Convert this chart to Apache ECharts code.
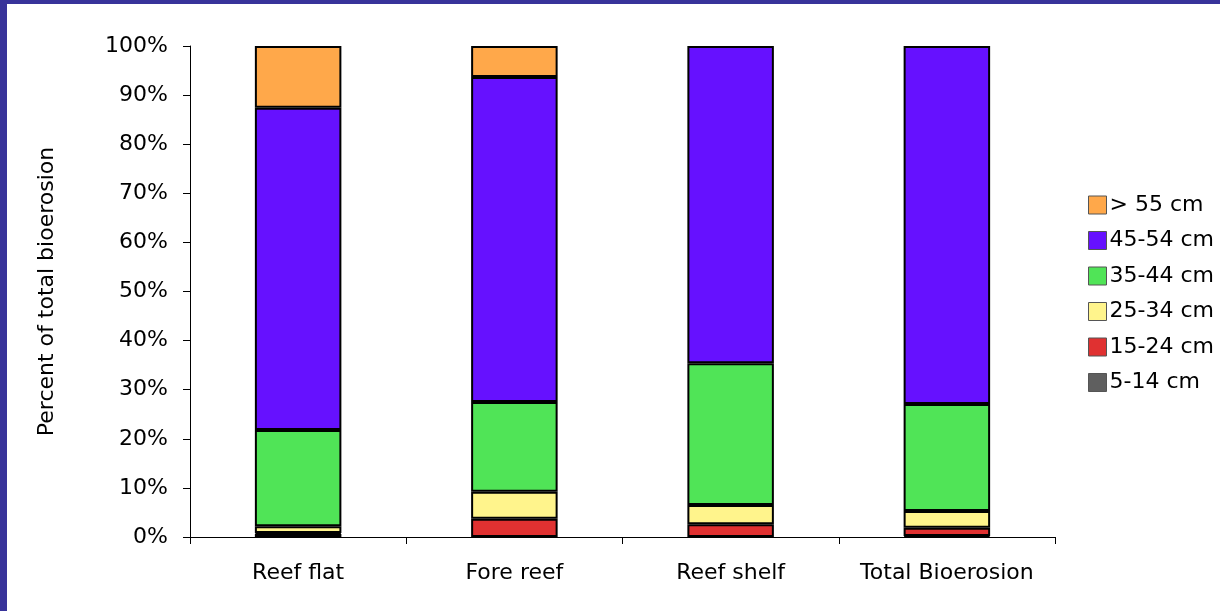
<!DOCTYPE html>
<html>
<head>
<meta charset="utf-8">
<script src="https://cdn.jsdelivr.net/npm/echarts@6/dist/echarts.min.js"></script>
<style>
  html, body { margin: 0; padding: 0; background: #fff; }
  #chart { width: 1220px; height: 611px; }
</style>
</head>
<body>
<div id="chart"></div>
<script>
// Share of total bioerosion by size class (percent), per reef zone
const categories = ['Reef flat', 'Fore reef', 'Reef shelf', 'Total Bioerosion'];
const yTicks = { min: 0, max: 100, interval: 10 };

const size5to14  = [0.6, 0, 0, 0.2];
const size15to24 = [0.2, 3.7, 2.6, 1.7];
const size25to34 = [1.4, 5.5, 3.9, 3.4];
const size35to44 = [19.6, 18.3, 28.9, 21.8];
const size45to54 = [65.6, 66.2, 64.6, 72.9];
const sizeOver55 = [12.6, 6.3, 0, 0];

const seriesDefs = [
  { name: '5-14 cm',  data: size5to14,  color: '#5f5f5f' },
  { name: '15-24 cm', data: size15to24, color: '#e03131' },
  { name: '25-34 cm', data: size25to34, color: '#fff48c' },
  { name: '35-44 cm', data: size35to44, color: '#50e457' },
  { name: '45-54 cm', data: size45to54, color: '#6611ff' },
  { name: '> 55 cm',  data: sizeOver55, color: '#ffa84a' }
];

const font = 'DejaVu Sans, Verdana, sans-serif';
const chart = echarts.init(document.getElementById('chart'), null, { renderer: 'canvas' });

chart.setOption({
  animation: false,
  backgroundColor: '#fff',
  textStyle: { fontFamily: font, color: '#000' },
  graphic: [
    { type: 'rect', shape: { x: 0, y: 0, width: 7, height: 611 }, style: { fill: '#38339a' }, z: 100 },
    { type: 'rect', shape: { x: 0, y: 0, width: 1220, height: 4 }, style: { fill: '#38339a' }, z: 100 }
  ],
  grid: { left: 190, right: 165, top: 46, bottom: 74 },
  legend: {
    orient: 'vertical',
    left: 1083,
    top: 189,
    itemWidth: 18,
    itemHeight: 18,
    itemGap: 13.5,
    icon: 'rect',
    data: seriesDefs.map(s => s.name).reverse(),
    itemStyle: { borderWidth: 1, borderColor: '#555' },
    textStyle: { fontFamily: font, fontSize: 22, color: '#000', padding: [0, 0, 0, -2] }
  },
  xAxis: {
    type: 'category',
    data: categories,
    axisLine: { lineStyle: { color: '#000', width: 1 } },
    axisTick: { show: true, interval: 0, length: 7, lineStyle: { color: '#000' } },
    axisLabel: { interval: 0, fontFamily: font, fontSize: 22, color: '#000', margin: 25 }
  },
  yAxis: {
    type: 'value',
    min: yTicks.min,
    max: yTicks.max,
    interval: yTicks.interval,
    name: 'Percent of total bioerosion',
    nameLocation: 'middle',
    nameRotate: 90,
    nameGap: 132,
    nameTextStyle: { fontFamily: font, fontSize: 22, color: '#000' },
    axisLine: { show: true, lineStyle: { color: '#000', width: 1 } },
    axisTick: { show: true, length: 7, lineStyle: { color: '#000' } },
    axisLabel: { fontFamily: font, fontSize: 22, color: '#000', margin: 22, formatter: '{value}%' },
    splitLine: { show: false }
  },
  series: seriesDefs.map(s => ({
    name: s.name,
    type: 'bar',
    stack: 'total',
    barWidth: '40%',
    // empty size classes are left out of the stack instead of drawn as flat outlines
    data: s.data.map(v => (v === 0 ? '-' : v)),
    itemStyle: { color: s.color, borderColor: '#000', borderWidth: 2 }
  }))
});
</script>
</body>
</html>
